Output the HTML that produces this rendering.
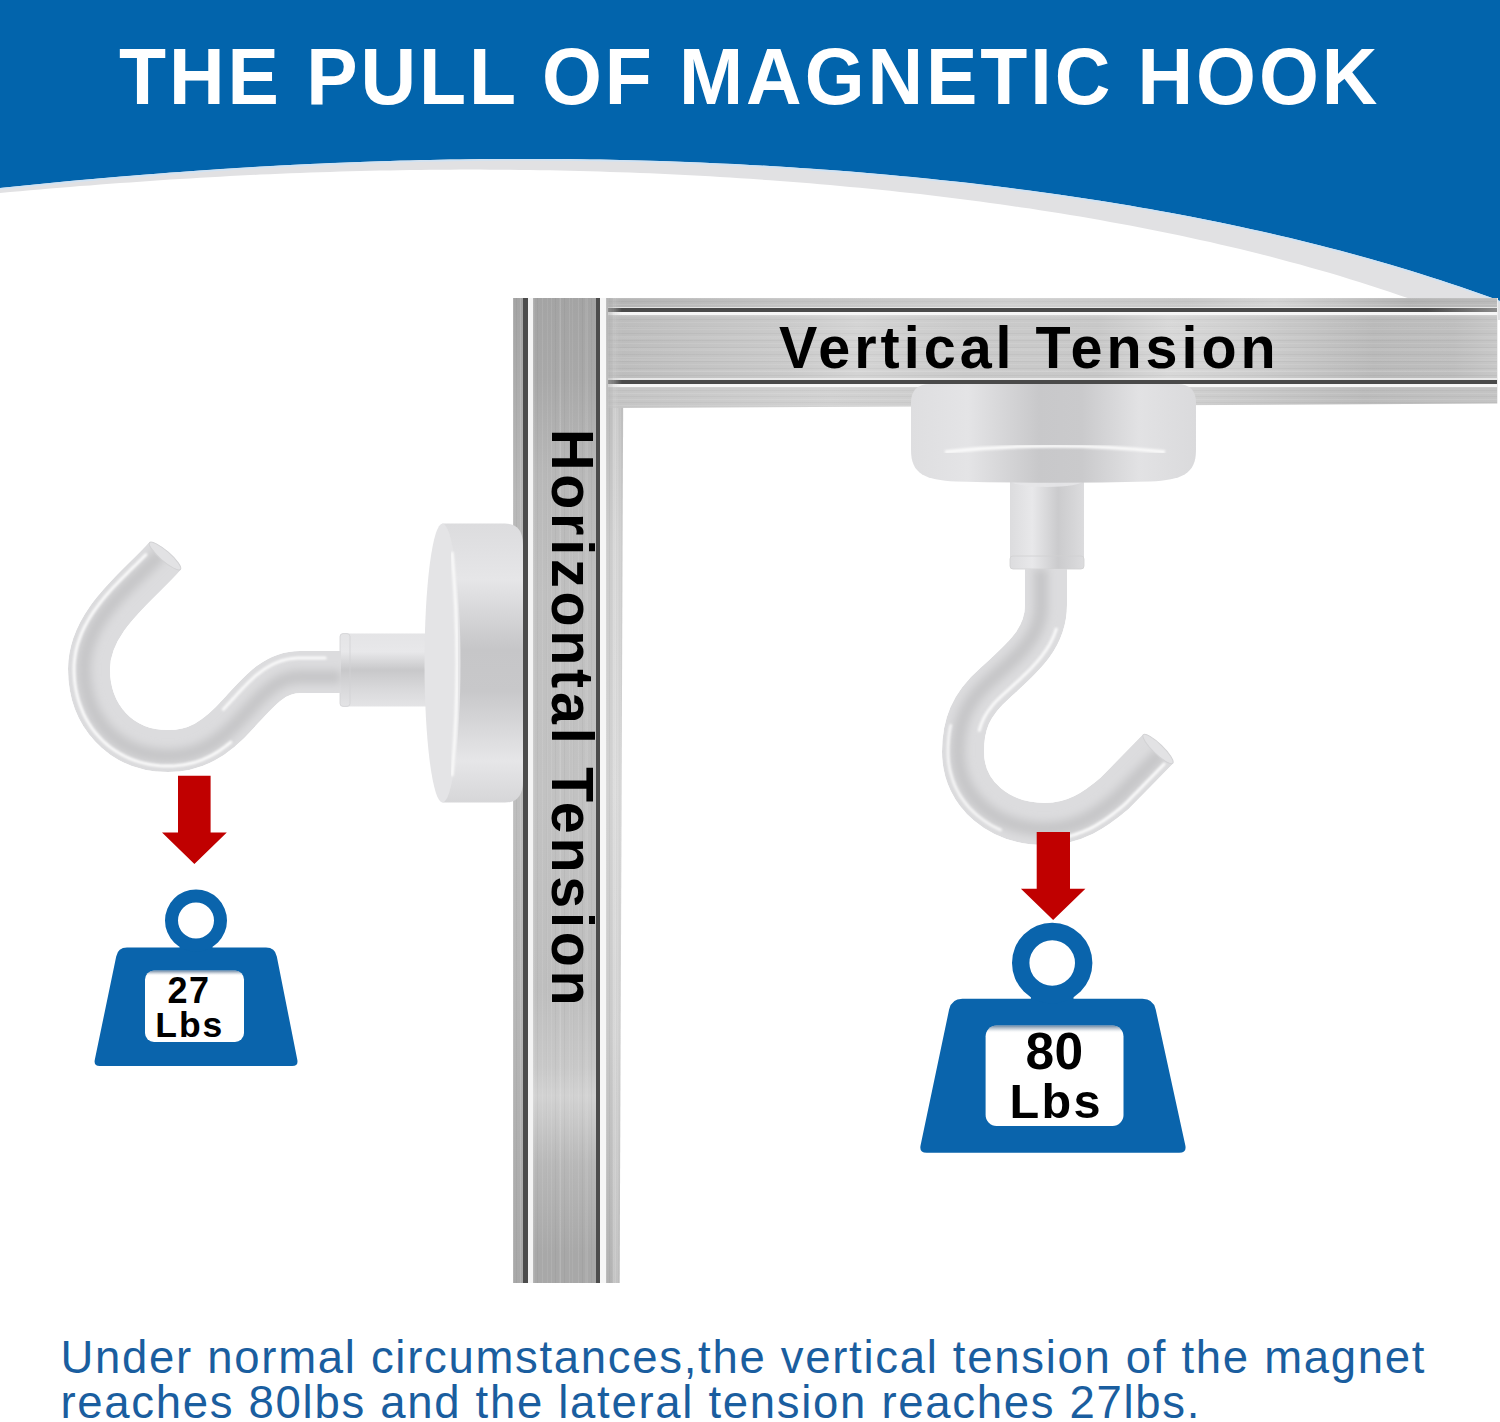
<!DOCTYPE html>
<html><head><meta charset="utf-8">
<style>
*{margin:0;padding:0;box-sizing:border-box}
html,body{width:1500px;height:1422px;overflow:hidden;background:#fff}
#root{position:relative;width:1500px;height:1422px;background:#fff;overflow:hidden;font-family:"Liberation Sans",sans-serif}
.abs{position:absolute}
#root{--vs1:repeating-linear-gradient(90deg,rgba(255,255,255,.12) 0 1px,rgba(255,255,255,0) 1px 3px,rgba(0,0,0,.035) 3px 4px,rgba(0,0,0,0) 4px 7px);
--vs2:repeating-linear-gradient(90deg,rgba(255,255,255,.09) 0 1px,rgba(255,255,255,0) 1px 4px,rgba(0,0,0,.035) 4px 5px,rgba(0,0,0,0) 5px 9px),repeating-linear-gradient(90deg,rgba(255,255,255,.07) 0 2px,rgba(255,255,255,0) 2px 13px);
--hs1:repeating-linear-gradient(180deg,rgba(255,255,255,.1) 0 1px,rgba(255,255,255,0) 1px 3px,rgba(0,0,0,.03) 3px 4px,rgba(0,0,0,0) 4px 6px);
--hs2:repeating-linear-gradient(180deg,rgba(255,255,255,.09) 0 1px,rgba(255,255,255,0) 1px 4px,rgba(0,0,0,.035) 4px 5px,rgba(0,0,0,0) 5px 7px),repeating-linear-gradient(180deg,rgba(255,255,255,.07) 0 2px,rgba(255,255,255,0) 2px 11px)}
.title{position:absolute;left:119px;top:26px;font-size:77px;font-weight:700;color:#fff;letter-spacing:2.94px;white-space:nowrap;line-height:96px;transform-origin:0 0;transform:scaleY(1.04)}
.vt{position:absolute;font-size:57.5px;font-weight:700;color:#000;white-space:nowrap;line-height:60px}
.para{position:absolute;left:60.5px;top:1335.3px;font-size:45.5px;color:#1a5e9f;letter-spacing:1.7px;line-height:45px;white-space:nowrap}
.lbl{position:absolute;font-weight:700;color:#000;white-space:nowrap;text-align:center}
</style></head><body><div id="root">
<svg class="abs" style="left:0;top:0" width="1500" height="320" viewBox="0 0 1500 320">
  <polygon points="0,0 1520,0 1520,342.2 1510,337.9 1500,333.6 1490,329.4 1480,325.2 1470,321.2 1460,317.3 1450,313.4 1440,309.7 1430,306.0 1420,302.4 1410,298.8 1400,295.4 1390,292.0 1380,288.7 1370,285.4 1360,282.3 1350,279.2 1340,276.1 1330,273.1 1320,270.2 1310,267.4 1300,264.6 1290,261.9 1280,259.2 1270,256.6 1260,254.1 1250,251.6 1240,249.1 1230,246.8 1220,244.4 1210,242.1 1200,239.9 1190,237.7 1180,235.6 1170,233.5 1160,231.4 1150,229.4 1140,227.5 1130,225.6 1120,223.7 1110,221.9 1100,220.1 1090,218.3 1080,216.6 1070,214.9 1060,213.3 1050,211.7 1040,210.2 1030,208.6 1020,207.2 1010,205.7 1000,204.3 990,202.9 980,201.6 970,200.2 960,199.0 950,197.7 940,196.5 930,195.3 920,194.1 910,193.0 900,191.9 890,190.8 880,189.8 870,188.8 860,187.8 850,186.9 840,185.9 830,185.0 820,184.2 810,183.3 800,182.5 790,181.7 780,180.9 770,180.2 760,179.5 750,178.8 740,178.2 730,177.5 720,176.9 710,176.3 700,175.8 690,175.2 680,174.7 670,174.2 660,173.8 650,173.3 640,172.9 630,172.6 620,172.2 610,171.9 600,171.5 590,171.2 580,171.0 570,170.7 560,170.5 550,170.3 540,170.2 530,170.0 520,169.9 510,169.8 500,169.7 490,169.7 480,169.6 470,169.6 460,169.6 450,169.7 440,169.7 430,169.8 420,169.9 410,170.1 400,170.2 390,170.4 380,170.6 370,170.8 360,171.0 350,171.3 340,171.6 330,171.9 320,172.2 310,172.6 300,172.9 290,173.3 280,173.7 270,174.2 260,174.6 250,175.1 240,175.6 230,176.1 220,176.7 210,177.2 200,177.8 190,178.4 180,179.0 170,179.6 160,180.3 150,181.0 140,181.7 130,182.4 120,183.1 110,183.8 100,184.6 90,185.4 80,186.1 70,186.9 60,187.8 50,188.6 40,189.4 30,190.3 20,191.2 10,192.1 0,192.9" fill="#e1e1e3"/>
  <polygon points="0,0 1520,0 1520,308.4 1510,304.6 1500,300.9 1490,297.2 1480,293.7 1470,290.2 1460,286.7 1450,283.4 1440,280.1 1430,276.9 1420,273.7 1410,270.6 1400,267.6 1390,264.6 1380,261.7 1370,258.8 1360,256.0 1350,253.3 1340,250.6 1330,248.0 1320,245.4 1310,242.9 1300,240.4 1290,238.0 1280,235.7 1270,233.3 1260,231.1 1250,228.9 1240,226.7 1230,224.6 1220,222.5 1210,220.4 1200,218.4 1190,216.5 1180,214.6 1170,212.7 1160,210.9 1150,209.1 1140,207.4 1130,205.6 1120,204.0 1110,202.3 1100,200.7 1090,199.2 1080,197.7 1070,196.2 1060,194.7 1050,193.3 1040,191.9 1030,190.6 1020,189.3 1010,188.0 1000,186.7 990,185.5 980,184.3 970,183.1 960,182.0 950,180.9 940,179.9 930,178.8 920,177.8 910,176.8 900,175.9 890,174.9 880,174.1 870,173.2 860,172.3 850,171.5 840,170.7 830,170.0 820,169.3 810,168.6 800,167.9 790,167.2 780,166.6 770,166.0 760,165.4 750,164.9 740,164.3 730,163.8 720,163.4 710,162.9 700,162.5 690,162.1 680,161.7 670,161.3 660,161.0 650,160.7 640,160.4 630,160.2 620,159.9 610,159.7 600,159.5 590,159.4 580,159.2 570,159.1 560,159.0 550,159.0 540,158.9 530,158.9 520,158.9 510,158.9 500,158.9 490,159.0 480,159.1 470,159.2 460,159.4 450,159.5 440,159.7 430,159.9 420,160.1 410,160.4 400,160.6 390,160.9 380,161.2 370,161.6 360,161.9 350,162.3 340,162.7 330,163.1 320,163.6 310,164.0 300,164.5 290,165.0 280,165.5 270,166.1 260,166.6 250,167.2 240,167.8 230,168.5 220,169.1 210,169.8 200,170.5 190,171.2 180,171.9 170,172.6 160,173.4 150,174.2 140,175.0 130,175.8 120,176.6 110,177.5 100,178.3 90,179.2 80,180.1 70,181.0 60,182.0 50,182.9 40,183.9 30,184.9 20,185.9 10,186.9 0,187.9" fill="#0264ac"/>
  <polyline points="1520,308.4 1510,304.6 1500,300.9 1490,297.2 1480,293.7 1470,290.2 1460,286.7 1450,283.4 1440,280.1 1430,276.9 1420,273.7 1410,270.6 1400,267.6 1390,264.6 1380,261.7 1370,258.8 1360,256.0 1350,253.3 1340,250.6 1330,248.0 1320,245.4 1310,242.9 1300,240.4 1290,238.0 1280,235.7 1270,233.3 1260,231.1 1250,228.9 1240,226.7 1230,224.6 1220,222.5 1210,220.4 1200,218.4 1190,216.5 1180,214.6 1170,212.7 1160,210.9 1150,209.1 1140,207.4 1130,205.6 1120,204.0 1110,202.3 1100,200.7 1090,199.2 1080,197.7 1070,196.2 1060,194.7 1050,193.3 1040,191.9 1030,190.6 1020,189.3 1010,188.0 1000,186.7 990,185.5 980,184.3 970,183.1 960,182.0 950,180.9 940,179.9 930,178.8 920,177.8 910,176.8 900,175.9 890,174.9 880,174.1 870,173.2 860,172.3 850,171.5 840,170.7 830,170.0 820,169.3 810,168.6 800,167.9 790,167.2 780,166.6 770,166.0 760,165.4 750,164.9 740,164.3 730,163.8 720,163.4 710,162.9 700,162.5 690,162.1 680,161.7 670,161.3 660,161.0 650,160.7 640,160.4 630,160.2 620,159.9 610,159.7 600,159.5 590,159.4 580,159.2 570,159.1 560,159.0 550,159.0 540,158.9 530,158.9 520,158.9 510,158.9 500,158.9 490,159.0 480,159.1 470,159.2 460,159.4 450,159.5 440,159.7 430,159.9 420,160.1 410,160.4 400,160.6 390,160.9 380,161.2 370,161.6 360,161.9 350,162.3 340,162.7 330,163.1 320,163.6 310,164.0 300,164.5 290,165.0 280,165.5 270,166.1 260,166.6 250,167.2 240,167.8 230,168.5 220,169.1 210,169.8 200,170.5 190,171.2 180,171.9 170,172.6 160,173.4 150,174.2 140,175.0 130,175.8 120,176.6 110,177.5 100,178.3 90,179.2 80,180.1 70,181.0 60,182.0 50,182.9 40,183.9 30,184.9 20,185.9 10,186.9 0,187.9" fill="none" stroke="#cfe3f5" stroke-width="1.6" transform="translate(0,0.9)"/>
</svg>
<div class="title">THE PULL OF MAGNETIC HOOK</div>

<!-- vertical rail -->
<div class="abs" style="left:512.6px;top:298px;width:112px;height:985px">
  <div class="abs vstr" style="left:0;top:0;width:11px;height:985px;background-color:#b0b0b0;background-image:var(--vs1),linear-gradient(#a4a4a4,#b8b8b8 20%,#c0c0c0 45%,#b8b8b8 70%,#a8a8a8)"></div>
  <div class="abs" style="left:10.5px;top:0;width:5px;height:985px;background:#4c4c4c"></div>
  <div class="abs" style="left:15.5px;top:0;width:5px;height:985px;background:#f4f4f4"></div>
  <div class="abs" style="left:20.5px;top:0;width:63px;height:985px;background-image:var(--vs2),linear-gradient(#a4a4a4,#a8a8a8 8%,#b8b8b8 18%,#c0c0c0 30%,#c2c2c2 50%,#bebebe 70%,#c8c8c8 78%,#d2d2d2 81%,#b8b8b8 88%,#a8a8a8 97%)"></div>
  <div class="abs" style="left:83.5px;top:0;width:4px;height:985px;background:#4c4c4c"></div>
  <div class="abs" style="left:87.5px;top:0;width:5.5px;height:985px;background:#f6f6f6"></div>
  <div class="abs" style="left:93px;top:0;width:18px;height:985px;clip-path:polygon(0 0,100% 0,78% 100%,0 100%);background-image:var(--vs1),linear-gradient(90deg,rgba(255,255,255,0) 30%,rgba(255,255,255,.35) 55%,rgba(255,255,255,0) 80%),linear-gradient(#b4b4b4,#cccccc 25%,#d2d2d2 50%,#cacaca 75%,#b2b2b2)"></div>
</div>
<!-- horizontal rail -->
<div class="abs" style="left:608px;top:298px;width:890px;height:110px;clip-path:polygon(0 0,100% 0,100% 96%,0 100%);-webkit-mask-image:linear-gradient(90deg,rgba(0,0,0,.35) 0,#000 14px);mask-image:linear-gradient(90deg,rgba(0,0,0,.35) 0,#000 14px)">
  <div class="abs" style="left:0;top:0;width:890px;height:10px;background-image:var(--hs1),linear-gradient(90deg,#b4b4b4,#c4c4c4 20%,#cfcfcf 45%,#c8c8c8 65%,#d4d4d4 75%,#b4b4b4 90%,#bcbcbc)"></div>
  <div class="abs" style="left:0;top:8.5px;width:890px;height:1.3px;background:rgba(240,240,240,.8)"></div>
  <div class="abs" style="left:0;top:9.8px;width:890px;height:4px;background:linear-gradient(90deg,#4a4a4a 0,#4a4a4a 92%,#8c8c8c 100%)"></div>
  <div class="abs" style="left:0;top:14px;width:890px;height:3px;background:#f6f6f6"></div>
  <div class="abs" style="left:0;top:17px;width:890px;height:65px;background-image:var(--hs2),linear-gradient(90deg,#bcbcbc,#c2c2c2 8%,#cacaca 20%,#d4d4d4 28%,#cacaca 40%,#c8c8c8 55%,#d8d8d8 63%,#cecece 72%,#bababa 86%,#bebebe 95%,#c8c8c8)"></div>
  <div class="abs" style="left:0;top:80.2px;width:890px;height:1.5px;background:rgba(240,240,240,.8)"></div>
  <div class="abs" style="left:0;top:81.7px;width:890px;height:4.3px;background:#4a4a4a"></div>
  <div class="abs" style="left:0;top:86px;width:890px;height:3px;background:#f6f6f6"></div>
  <div class="abs" style="left:0;top:89px;width:890px;height:21px;background-image:var(--hs1),linear-gradient(90deg,#c4c4c4,#d2d2d2 25%,#cacaca 45%,#d0d0d0 65%,#bcbcbc 85%,#c4c4c4)"></div>
  <div class="abs" style="left:889px;top:0;width:1px;height:110px;background:#eeeeee"></div>
</div>
<div class="vt" style="left:779px;top:316px;letter-spacing:4px;transform-origin:0 0;transform:scaleY(1.04)">Vertical Tension</div>
<div class="vt" style="left:604.3px;top:429px;letter-spacing:3.73px;transform-origin:0 0;transform:rotate(90deg) scaleY(1.04)">Horizontal Tension</div>
<svg class="abs" style="left:0;top:0" width="1500" height="1422" viewBox="0 0 1500 1422">

<defs>
 <linearGradient id="lblsh" x1="0" y1="0" x2="0" y2="1">
  <stop offset="0" stop-color="#3a5f86" stop-opacity="0.75"/>
  <stop offset="0.035" stop-color="#8c9db0" stop-opacity="0.45"/>
  <stop offset="0.075" stop-color="#ffffff" stop-opacity="0"/>
 </linearGradient>
 <linearGradient id="lstem" x1="0" y1="0" x2="0" y2="1">
  <stop offset="0" stop-color="#e4e4e6"/><stop offset="0.25" stop-color="#e8e8ea"/>
  <stop offset="0.5" stop-color="#c8c8ca"/><stop offset="0.75" stop-color="#d8d8da"/><stop offset="1" stop-color="#e4e4e6"/>
 </linearGradient>
 <linearGradient id="ldisc" x1="0" y1="0" x2="0" y2="1">
  <stop offset="0" stop-color="#dcdcde"/><stop offset="0.2" stop-color="#e6e6e8"/>
  <stop offset="0.45" stop-color="#c6c6c8"/><stop offset="0.6" stop-color="#c8c8ca"/>
  <stop offset="0.85" stop-color="#e6e6e8"/><stop offset="1" stop-color="#d6d6d8"/>
 </linearGradient>
 <linearGradient id="rdisc" x1="0" y1="0" x2="1" y2="0">
  <stop offset="0" stop-color="#dedee0"/><stop offset="0.2" stop-color="#e4e4e6"/>
  <stop offset="0.45" stop-color="#c8c8ca"/><stop offset="0.6" stop-color="#cacacc"/>
  <stop offset="0.8" stop-color="#e2e2e4"/><stop offset="1" stop-color="#dadadc"/>
 </linearGradient>
 <linearGradient id="rstem" x1="0" y1="0" x2="1" y2="0">
  <stop offset="0" stop-color="#dcdcde"/><stop offset="0.3" stop-color="#e8e8ea"/>
  <stop offset="0.65" stop-color="#cbcbcd"/><stop offset="1" stop-color="#dcdcde"/>
 </linearGradient>
 <filter id="bl3" x="-10%" y="-10%" width="120%" height="120%"><feGaussianBlur stdDeviation="4"/></filter>
 <filter id="bl1" x="-10%" y="-10%" width="120%" height="120%"><feGaussianBlur stdDeviation="0.8"/></filter>
</defs>
<!-- left magnet -->
<rect x="340" y="633.6" width="100" height="72.8" rx="4" fill="url(#lstem)"/>
<rect x="340" y="633.6" width="10" height="72.8" rx="3" fill="url(#lstem)" stroke="#d2d2d4" stroke-width="0.8"/>
<path d="M442.5,523.6 L505,523.6 Q523,523.6 523,545 L523,781 Q523,802.6 505,802.6 L442.5,802.6 Z" fill="url(#ldisc)"/>
<ellipse cx="442.5" cy="663" rx="18" ry="139.5" fill="#e4e4e6"/>
<path d="M452,552 Q462,663 452,776" stroke="#fafafa" stroke-width="3" fill="none" filter="url(#bl1)"/>
<mask id="mL" maskUnits="userSpaceOnUse" x="0" y="0" width="1500" height="1422"><path d="M341,672 L300,672 C275,672 260,690 239,713 C215,740 195,751 168,751 C120,751 89,715 89,669 C89,620 140,585 165,556" stroke="#fff" stroke-width="42" fill="none"/></mask><g mask="url(#mL)"><path d="M341,672 L300,672 C275,672 260,690 239,713 C215,740 195,751 168,751 C120,751 89,715 89,669 C89,620 140,585 165,556" stroke="#dcdcde" stroke-width="42" fill="none"/><path d="M341.0,677.0 L339.9,677.0 L338.9,677.0 L337.8,677.0 L336.8,677.0 L335.7,677.0 L334.7,677.0 L333.6,677.0 L332.6,677.0 L331.5,677.0 L330.5,677.0 L329.4,677.0 L328.4,677.0 L327.3,677.0 L326.3,677.0 L325.2,677.0 L324.2,677.0 L323.1,677.0 L322.1,677.0 L321.0,677.0 L320.0,677.0 L318.9,677.0 L317.9,677.0 L316.8,677.0 L315.8,677.0 L314.7,677.0 L313.7,677.0 L312.6,677.0 L311.6,677.0 L310.5,677.0 L309.5,677.0 L308.4,677.0 L307.4,677.0 L306.3,677.0 L305.3,677.0 L304.2,677.0 L303.2,677.0 L302.1,677.0 L301.1,677.0 L300.1,677.0 L298.3,677.0 L296.6,677.1 L295.0,677.3 L293.4,677.5 L291.8,677.8 L290.3,678.1 L288.7,678.5 L287.2,678.9 L285.8,679.4 L284.3,680.0 L282.9,680.6 L281.5,681.2 L280.1,681.9 L278.7,682.7 L277.3,683.5 L275.9,684.4 L274.5,685.3 L273.1,686.3 L271.8,687.3 L270.4,688.4 L269.0,689.5 L267.6,690.6 L266.2,691.8 L264.9,693.1 L263.5,694.4 L262.1,695.7 L260.7,697.1 L259.3,698.5 L257.8,700.0 L256.4,701.5 L254.9,703.0 L253.5,704.6 L252.0,706.2 L250.5,707.8 L249.0,709.5 L247.4,711.2 L245.9,712.9 L244.3,714.6 L242.7,716.4 L240.9,718.4 L239.0,720.4 L237.1,722.4 L235.3,724.3 L233.5,726.2 L231.6,727.9 L229.8,729.7 L228.0,731.3 L226.2,733.0 L224.4,734.5 L222.6,736.0 L220.7,737.5 L218.9,738.9 L217.1,740.2 L215.3,741.5 L213.5,742.7 L211.6,743.9 L209.8,745.0 L207.9,746.0 L206.1,747.0 L204.2,748.0 L202.3,748.9 L200.4,749.7 L198.5,750.5 L196.6,751.2 L194.7,751.9 L192.7,752.5 L190.8,753.1 L188.8,753.6 L186.8,754.1 L184.8,754.5 L182.7,754.8 L180.7,755.2 L178.6,755.4 L176.5,755.6 L174.4,755.8 L172.3,755.9 L170.2,756.0 L168.0,756.0 L164.1,755.9 L160.4,755.7 L156.6,755.3 L153.0,754.8 L149.4,754.2 L145.9,753.4 L142.5,752.5 L139.1,751.4 L135.9,750.2 L132.7,748.9 L129.6,747.5 L126.5,745.9 L123.6,744.2 L120.8,742.5 L118.0,740.5 L115.4,738.5 L112.8,736.4 L110.3,734.2 L108.0,731.9 L105.7,729.4 L103.6,726.9 L101.5,724.3 L99.6,721.6 L97.7,718.8 L96.0,716.0 L94.4,713.0 L92.9,710.0 L91.5,706.9 L90.2,703.8 L89.0,700.5 L88.0,697.2 L87.1,693.9 L86.3,690.5 L85.6,687.0 L85.0,683.5 L84.6,680.0 L84.3,676.3 L84.1,672.7 L84.0,669.0 L84.1,665.0 L84.4,661.0 L84.9,657.2 L85.6,653.3 L86.5,649.6 L87.6,645.9 L88.8,642.2 L90.1,638.7 L91.6,635.2 L93.3,631.7 L95.0,628.3 L96.9,625.0 L98.9,621.7 L101.0,618.5 L103.2,615.3 L105.4,612.2 L107.7,609.2 L110.1,606.2 L112.6,603.2 L115.1,600.3 L117.6,597.4 L120.2,594.6 L122.8,591.8 L125.4,589.1 L128.0,586.4 L130.6,583.8 L133.3,581.2 L135.9,578.6 L138.4,576.1 L141.0,573.6 L143.5,571.1 L146.0,568.7 L148.4,566.3 L150.7,563.9 L153.0,561.6 L155.2,559.4 L157.3,557.1 L159.3,554.9 L161.2,552.7" stroke="#c6c6c8" stroke-width="14" fill="none" filter="url(#bl3)"/><path d="M325.2,658.0 L324.2,658.0 L323.1,658.0 L322.1,658.0 L321.0,658.0 L320.0,658.0 L318.9,658.0 L317.9,658.0 L316.8,658.0 L315.8,658.0 L314.7,658.0 L313.7,658.0 L312.6,658.0 L311.6,658.0 L310.5,658.0 L309.5,658.0 L308.4,658.0 L307.4,658.0 L306.3,658.0 L305.3,658.0 L304.2,658.0 L303.2,658.0 L302.1,658.0 L301.1,658.0 L299.8,658.0 L297.6,658.0 L295.2,658.2 L292.8,658.4 L290.5,658.7 L288.2,659.1 L285.9,659.6 L283.7,660.2 L281.5,660.8 L279.4,661.5 L277.3,662.3 L275.2,663.2 L273.2,664.1 L271.2,665.1 L269.3,666.2 L267.4,667.3 L265.6,668.4 L263.8,669.6 L262.0,670.9 L260.3,672.2 L258.6,673.5 L256.9,674.8 L255.2,676.2 L253.6,677.7 L252.0,679.1 L250.4,680.6 L248.8,682.1 L247.3,683.6 L245.7,685.2 L244.2,686.8 L242.6,688.4 L241.1,690.0 L239.6,691.6 L238.0,693.3 L236.5,695.0 L235.0,696.7 L233.4,698.4 L231.8,700.1 L230.3,701.8 L228.6,703.6 L226.8,705.6 L225.1,707.5 L223.4,709.3" stroke="#fdfdfd" stroke-width="3" stroke-opacity="0.9" fill="none" stroke-linecap="round" filter="url(#bl1)"/><path d="M230.8,742.2 L228.9,743.8 L226.9,745.3 L224.9,746.9 L222.9,748.3 L220.9,749.7 L218.9,751.1 L216.9,752.4 L214.8,753.6 L212.8,754.8 L210.7,755.9 L208.6,756.9 L206.5,758.0 L204.3,758.9 L202.2,759.8 L200.0,760.6 L197.8,761.4 L195.6,762.1 L193.4,762.7 L191.2,763.3 L188.9,763.8 L186.7,764.3 L184.4,764.7 L182.1,765.1 L179.8,765.3 L177.4,765.6 L175.1,765.8 L172.8,765.9 L170.4,766.0 L167.9,766.0 L163.8,765.9 L159.6,765.7 L155.5,765.3 L151.4,764.7 L147.4,764.0 L143.5,763.1 L139.7,762.1 L135.9,760.9 L132.3,759.6 L128.7,758.1 L125.2,756.5 L121.8,754.7 L118.5,752.8 L115.2,750.8 L112.1,748.6 L109.1,746.4 L106.3,744.0 L103.5,741.5 L100.8,738.8 L98.3,736.1 L95.8,733.3 L93.5,730.3 L91.3,727.3 L89.3,724.2 L87.3,721.0 L85.5,717.7 L83.8,714.3 L82.3,710.9 L80.9,707.3 L79.6,703.7 L78.4,700.1 L77.4,696.4 L76.5,692.6 L75.7,688.8 L75.1,684.9 L74.6,681.0 L74.3,677.0 L74.1,673.0 L74.0,668.9 L74.1,664.5 L74.5,660.0 L75.1,655.6 L75.8,651.3 L76.8,647.1 L78.0,642.9 L79.4,638.9 L80.9,634.9 L82.5,631.0 L84.3,627.3 L86.3,623.6 L88.3,619.9 L90.4,616.4 L92.7,612.9 L95.0,609.6 L97.4,606.3 L99.9,603.0 L102.4,599.9 L104.9,596.8 L107.5,593.7 L110.2,590.7 L112.8,587.8 L115.5,585.0 L118.2,582.2 L120.9,579.4 L123.6,576.7 L126.2,574.1 L128.8,571.5 L131.4,568.9 L134.0,566.4 L136.5,564.0 L138.9,561.6 L141.3,559.2 L143.6,556.9 L145.8,554.7" stroke="#fdfdfd" stroke-width="3" stroke-opacity="0.95" fill="none" stroke-linecap="round" filter="url(#bl1)"/></g><ellipse cx="165.0" cy="556.0" rx="20.5" ry="5" transform="rotate(41 165.0 556.0)" fill="#e2e2e4" stroke="#d2d2d4" stroke-width="1"/>
<!-- right magnet -->
<rect x="1010" y="470" width="74" height="99" rx="3" fill="url(#rstem)"/>
<rect x="1010" y="556" width="74" height="13" rx="3" fill="url(#rstem)" stroke="#d0d0d2" stroke-width="0.8"/>
<ellipse cx="1047" cy="481" rx="36" ry="6" fill="#e6e6e8" opacity="0.9"/>
<path d="M930,384 L1177,384 Q1196,384 1196,403 L1196,450 C1196,474 1182,480 1150,481.5 Q1053,484 956,481.5 C925,480 911,474 911,450 L911,403 Q911,384 930,384 Z" fill="url(#rdisc)"/>
<path d="M945,452 Q1053,440 1165,452" stroke="#fafafa" stroke-width="3.5" fill="none" filter="url(#bl1)"/>
<mask id="mR" maskUnits="userSpaceOnUse" x="0" y="0" width="1500" height="1422"><path d="M1046,569 L1046,605 C1046,640 1020,660 995,683 C970,705 963,725 963,752 C963,795 1000,824 1045,824 C1075,824 1095,810 1115,793 L1158,749" stroke="#fff" stroke-width="42" fill="none"/></mask><g mask="url(#mR)"><path d="M1046,569 L1046,605 C1046,640 1020,660 995,683 C970,705 963,725 963,752 C963,795 1000,824 1045,824 C1075,824 1095,810 1115,793 L1158,749" stroke="#dcdcde" stroke-width="42" fill="none"/><path d="M1041.0,569.0 L1041.0,569.9 L1041.0,570.8 L1041.0,571.8 L1041.0,572.7 L1041.0,573.6 L1041.0,574.5 L1041.0,575.5 L1041.0,576.4 L1041.0,577.3 L1041.0,578.2 L1041.0,579.2 L1041.0,580.1 L1041.0,581.0 L1041.0,581.9 L1041.0,582.8 L1041.0,583.8 L1041.0,584.7 L1041.0,585.6 L1041.0,586.5 L1041.0,587.5 L1041.0,588.4 L1041.0,589.3 L1041.0,590.2 L1041.0,591.2 L1041.0,592.1 L1041.0,593.0 L1041.0,593.9 L1041.0,594.8 L1041.0,595.8 L1041.0,596.7 L1041.0,597.6 L1041.0,598.5 L1041.0,599.5 L1041.0,600.4 L1041.0,601.3 L1041.0,602.2 L1041.0,603.2 L1041.0,604.1 L1041.0,604.9 L1041.0,607.5 L1040.8,609.9 L1040.6,612.2 L1040.3,614.5 L1039.9,616.8 L1039.4,619.0 L1038.8,621.2 L1038.2,623.3 L1037.5,625.3 L1036.7,627.4 L1035.8,629.4 L1034.9,631.4 L1033.9,633.3 L1032.9,635.2 L1031.7,637.1 L1030.5,639.0 L1029.3,640.9 L1028.0,642.7 L1026.6,644.5 L1025.2,646.3 L1023.8,648.1 L1022.3,649.9 L1020.7,651.6 L1019.1,653.4 L1017.5,655.1 L1015.8,656.8 L1014.1,658.5 L1012.3,660.3 L1010.5,662.0 L1008.7,663.7 L1006.9,665.4 L1005.0,667.1 L1003.1,668.8 L1001.2,670.6 L999.3,672.3 L997.4,674.0 L995.5,675.8 L993.6,677.5 L991.6,679.3 L989.7,681.0 L987.9,682.7 L986.1,684.5 L984.3,686.2 L982.6,687.9 L981.0,689.7 L979.5,691.4 L978.0,693.2 L976.5,694.9 L975.2,696.6 L973.9,698.4 L972.6,700.2 L971.4,701.9 L970.3,703.7 L969.2,705.5 L968.2,707.3 L967.2,709.1 L966.3,710.9 L965.5,712.7 L964.7,714.5 L963.9,716.4 L963.2,718.2 L962.6,720.1 L962.0,722.0 L961.4,723.9 L960.9,725.8 L960.4,727.7 L960.0,729.6 L959.6,731.6 L959.3,733.5 L959.0,735.5 L958.8,737.5 L958.6,739.5 L958.4,741.6 L958.2,743.6 L958.1,745.7 L958.1,747.8 L958.0,749.9 L958.0,752.1 L958.1,755.5 L958.3,758.9 L958.7,762.3 L959.2,765.7 L959.9,768.9 L960.7,772.1 L961.7,775.3 L962.7,778.3 L964.0,781.3 L965.3,784.3 L966.8,787.1 L968.4,789.9 L970.1,792.6 L971.9,795.2 L973.9,797.7 L975.9,800.1 L978.1,802.5 L980.3,804.7 L982.7,806.9 L985.1,809.0 L987.7,810.9 L990.3,812.8 L993.0,814.6 L995.8,816.3 L998.6,817.9 L1001.6,819.4 L1004.6,820.8 L1007.6,822.1 L1010.8,823.2 L1014.0,824.3 L1017.2,825.3 L1020.5,826.1 L1023.9,826.9 L1027.3,827.5 L1030.8,828.1 L1034.3,828.5 L1037.8,828.8 L1041.4,828.9 L1045.0,829.0 L1047.4,829.0 L1049.8,828.9 L1052.1,828.7 L1054.4,828.5 L1056.7,828.3 L1058.9,828.0 L1061.1,827.6 L1063.3,827.2 L1065.4,826.8 L1067.5,826.3 L1069.6,825.7 L1071.6,825.1 L1073.6,824.5 L1075.6,823.8 L1077.5,823.1 L1079.5,822.3 L1081.4,821.5 L1083.2,820.7 L1085.1,819.8 L1086.9,818.9 L1088.7,817.9 L1090.5,817.0 L1092.2,816.0 L1094.0,814.9 L1095.7,813.9 L1097.4,812.8 L1099.0,811.7 L1100.7,810.5 L1102.4,809.4 L1104.0,808.2 L1105.6,807.0 L1107.2,805.8 L1108.8,804.5 L1110.4,803.3 L1112.0,802.0 L1113.6,800.7 L1115.1,799.4 L1116.7,798.1 L1118.4,796.7 L1119.7,795.4 L1120.8,794.2 L1121.9,793.1 L1123.0,792.0 L1124.1,790.9 L1125.2,789.7 L1126.3,788.6 L1127.4,787.5 L1128.5,786.3 L1129.6,785.2 L1130.7,784.1 L1131.8,783.0 L1132.9,781.8 L1134.0,780.7 L1135.1,779.6 L1136.2,778.4 L1137.3,777.3 L1138.4,776.2 L1139.5,775.1 L1140.6,773.9 L1141.7,772.8 L1142.8,771.7 L1143.9,770.5 L1145.0,769.4 L1146.1,768.3 L1147.2,767.2 L1148.3,766.0 L1149.4,764.9 L1150.6,763.8 L1151.7,762.6 L1152.8,761.5 L1153.9,760.4 L1155.0,759.3 L1156.1,758.1 L1157.2,757.0 L1158.3,755.9 L1159.4,754.8 L1160.5,753.6 L1161.6,752.5" stroke="#c6c6c8" stroke-width="14" fill="none" filter="url(#bl3)"/><path d="M1056.3,629.1 L1055.3,631.8 L1054.3,634.5 L1053.2,637.2 L1052.0,639.7 L1050.7,642.2 L1049.4,644.7 L1047.9,647.1 L1046.5,649.4 L1044.9,651.7 L1043.3,653.9 L1041.7,656.1 L1040.0,658.2 L1038.3,660.3 L1036.6,662.3 L1034.8,664.3 L1033.0,666.3 L1031.2,668.3 L1029.3,670.2 L1027.4,672.0 L1025.5,673.9 L1023.6,675.7 L1021.7,677.5 L1019.8,679.3 L1017.9,681.1 L1015.9,682.9 L1014.0,684.6 L1012.1,686.4 L1010.2,688.1 L1008.3,689.8 L1006.4,691.6 L1004.4,693.4 L1002.5,695.0 L1000.9,696.6 L999.3,698.1 L997.8,699.6 L996.4,701.0 L995.0,702.5 L993.7,703.9 L992.5,705.4 L991.4,706.8 L990.3,708.2 L989.2,709.6 L988.2,711.0 L987.3,712.3 L986.4,713.7 L985.6,715.1 L984.8,716.5 L984.1,717.8 L983.4,719.2 L982.8,720.6 L982.2,721.9 L981.6,723.3 L981.1,724.7 L980.6,726.1 L980.1,727.5 L979.7,729.0 L979.3,730.4" stroke="#fdfdfd" stroke-width="3" stroke-opacity="0.9" fill="none" stroke-linecap="round" filter="url(#bl1)"/><path d="M950.7,725.5 L950.2,727.6 L949.8,729.8 L949.4,732.0 L949.1,734.2 L948.8,736.4 L948.6,738.6 L948.4,740.8 L948.3,743.0 L948.1,745.2 L948.1,747.5 L948.0,749.7 L948.0,752.2 L948.1,755.9 L948.3,759.8 L948.8,763.7 L949.4,767.5 L950.1,771.2 L951.1,774.8 L952.2,778.4 L953.4,781.9 L954.8,785.3 L956.3,788.7 L958.0,791.9 L959.8,795.1 L961.8,798.1 L963.9,801.1 L966.1,804.0 L968.4,806.7 L970.9,809.4 L973.4,811.9 L976.1,814.4 L978.8,816.7 L981.7,818.9 L984.6,821.1 L987.6,823.1 L990.7,825.0 L993.9,826.7 L997.2,828.4 L1000.5,829.9" stroke="#fdfdfd" stroke-width="3" stroke-opacity="0.8" fill="none" stroke-linecap="round" filter="url(#bl1)"/><path d="M1065.2,837.0 L1067.6,836.5 L1069.9,836.0 L1072.3,835.4 L1074.5,834.7 L1076.8,834.0 L1079.0,833.2 L1081.1,832.4 L1083.3,831.6 L1085.4,830.7 L1087.4,829.8 L1089.5,828.8 L1091.5,827.8 L1093.4,826.8 L1095.4,825.7 L1097.3,824.6 L1099.1,823.5 L1101.0,822.3 L1102.8,821.2 L1104.6,820.0 L1106.4,818.7 L1108.2,817.5 L1109.9,816.3 L1111.6,815.0 L1113.3,813.7 L1115.0,812.4 L1116.6,811.1 L1118.3,809.8 L1119.9,808.5 L1121.5,807.1 L1123.1,805.8 L1125.2,804.0 L1126.8,802.4 L1127.9,801.2 L1129.0,800.1 L1130.1,799.0 L1131.2,797.8 L1132.3,796.7 L1133.4,795.6 L1134.5,794.5 L1135.7,793.3 L1136.8,792.2 L1137.9,791.1 L1139.0,789.9 L1140.1,788.8 L1141.2,787.7 L1142.3,786.6 L1143.4,785.4 L1144.5,784.3 L1145.6,783.2 L1146.7,782.0 L1147.8,780.9 L1148.9,779.8 L1150.0,778.7 L1151.1,777.5 L1152.2,776.4 L1153.3,775.3 L1154.4,774.2 L1155.5,773.0 L1156.6,771.9 L1157.7,770.8 L1158.8,769.6 L1159.9,768.5 L1161.0,767.4 L1162.1,766.3 L1163.2,765.1 L1164.3,764.0" stroke="#fdfdfd" stroke-width="3" stroke-opacity="0.95" fill="none" stroke-linecap="round" filter="url(#bl1)"/></g><ellipse cx="1158.0" cy="749.0" rx="20.5" ry="5" transform="rotate(44 1158.0 749.0)" fill="#e2e2e4" stroke="#d2d2d4" stroke-width="1"/>

<path d="M178,775.8 L210.6,775.8 L210.6,832.5 L226.8,832.5 L194.4,864 L162,832.5 L178,832.5 Z" fill="#c00000"/>
<path d="M1036.7,832 L1070,832 L1070,888.7 L1085.4,888.7 L1053.15,920 L1020.9,888.7 L1036.7,888.7 Z" fill="#c00000"/>
<path d="M127.0,947.6 L266.0,947.6 Q275.0,947.6 276.8,956.4 L297.3,1059.8 Q298.5,1066.0 292.2,1066.0 L99.8,1066.0 Q93.5,1066.0 94.8,1059.8 L116.2,956.4 Q118.0,947.6 127.0,947.6 Z" fill="#0a64ac"/><path d="M165,920.5 a31,31 0 1,0 62,0 a31,31 0 1,0 -62,0 Z M178,920.5 a18,18 0 1,1 36,0 a18,18 0 1,1 -36,0 Z" fill="#0a64ac" fill-rule="evenodd"/><rect x="179.6" y="939.9" width="32.9" height="9.3" fill="#0a64ac"/><rect x="145" y="970.6" width="99" height="71.39999999999998" rx="9" fill="#fff"/><rect x="145" y="970.6" width="99" height="71.39999999999998" rx="9" fill="url(#lblsh)"/><path d="M962.4,998.8 L1142.4,998.8 Q1153.4,998.8 1155.7,1009.5 L1185.3,1145.3 Q1186.9,1152.8 1179.2,1152.8 L926.7,1152.8 Q919.0,1152.8 920.6,1145.3 L949.1,1009.6 Q951.4,998.8 962.4,998.8 Z" fill="#0a64ac"/><path d="M1012.0,963 a40.2,40.2 0 1,0 80.4,0 a40.2,40.2 0 1,0 -80.4,0 Z M1029.4,963 a22.8,22.8 0 1,1 45.6,0 a22.8,22.8 0 1,1 -45.6,0 Z" fill="#0a64ac" fill-rule="evenodd"/><rect x="1030.9" y="988.8" width="42.6" height="12.1" fill="#0a64ac"/><rect x="985.6" y="1025.6" width="137.89999999999998" height="100.40000000000009" rx="11" fill="#fff"/><rect x="985.6" y="1025.6" width="137.89999999999998" height="100.40000000000009" rx="11" fill="url(#lblsh)"/>
</svg>
<div class="lbl" style="left:167.5px;top:970.5px;font-size:36px;line-height:40px;letter-spacing:1.5px">27</div>
<div class="lbl" style="left:155.3px;top:1005.3px;font-size:35.5px;line-height:40px;letter-spacing:1.9px">Lbs</div>
<div class="lbl" style="left:1025.5px;top:1023px;font-size:51.5px;line-height:56px;letter-spacing:0.3px">80</div>
<div class="lbl" style="left:1009.5px;top:1073px;font-size:48.6px;line-height:56px;letter-spacing:2.3px">Lbs</div>

<div class="para">Under normal circumstances,the vertical tension of the magnet<br>reaches 80lbs and the lateral tension reaches 27lbs.</div>
</div></body></html>
